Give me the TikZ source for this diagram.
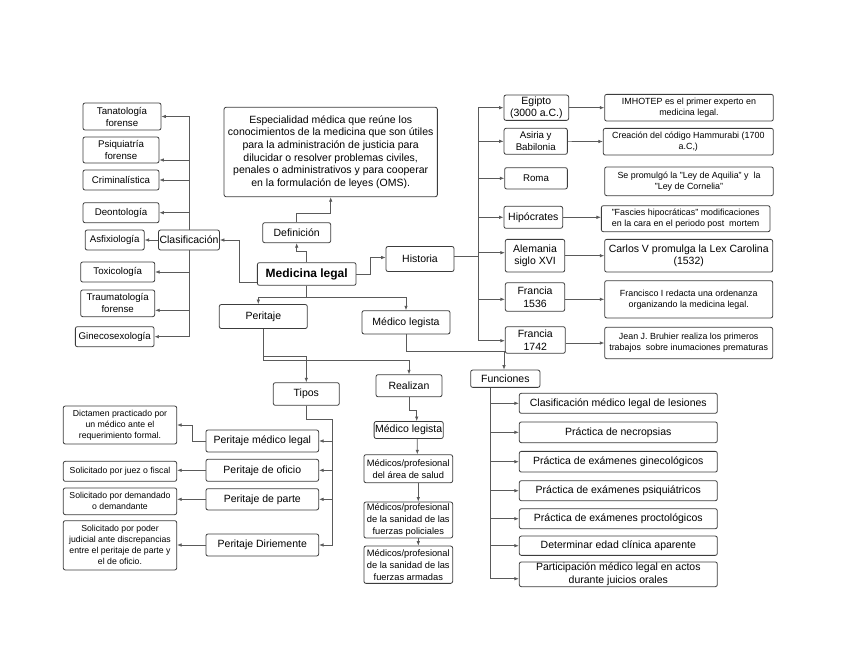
\documentclass[tikz,border=0pt]{standalone}
\usepackage{fontspec}
\setmainfont{Liberation Sans}
\usepackage{xcolor}
\usepackage{tikz}
\usetikzlibrary{arrows.meta}
\definecolor{borde}{HTML}{3C3C3C}
\definecolor{trazo}{HTML}{5A5A5A}

\begin{document}
\begin{tikzpicture}[
  x = 1pt, y = -1pt,
  caja/.style   = {draw=borde, rounded corners=2pt, align=center, line width=0.8pt,
                   inner sep=1pt, font=\fontsize{10.5}{12.6}\selectfont},
  clase/.style  = {caja, font=\fontsize{9.7}{12}\selectfont},
  nota/.style   = {caja, font=\fontsize{8.9}{11}\selectfont},
  medico/.style = {caja, minimum width=88.7pt, font=\fontsize{9.3}{12}\selectfont},
  flecha/.style = {-{Latex[length=4.5pt,width=3.5pt]}, draw=trazo, line width=0.7pt},
  linea/.style  = {draw=trazo, line width=0.7pt}
]
\useasboundingbox (0,0) rectangle (848,662);

% centro y definicion
\node[caja, minimum width=98.7pt, minimum height=22.6pt, font=\fontsize{12}{14}\selectfont\bfseries] (ml) at (306.7,274) {Medicina legal};
\node[caja, minimum width=68pt, minimum height=20pt] (defi) at (296.7,232.7) {Definición};
\node[caja, minimum width=213.3pt, minimum height=89.4pt] (esp) at (330.7,152) {Especialidad médica que reúne los\\conocimientos de la medicina que son útiles\\para la administración de justicia para\\dilucidar o resolver problemas civiles,\\penales o administrativos y para cooperar\\en la formulación de leyes (OMS).};
\node[caja, minimum width=68pt, minimum height=25pt] (hist) at (420,259) {Historia};
\node[caja, minimum width=88pt, minimum height=24pt] (peri) at (263.3,316.5) {Peritaje};
\node[caja, minimum width=88pt, minimum height=23.3pt] (mleg) at (406,322.3) {Médico legista};
\node[caja, minimum width=66pt, minimum height=22.6pt] (tipos) at (306.3,394) {Tipos};
\node[caja, minimum width=66pt, minimum height=22pt] (real) at (409,385.7) {Realizan};
\node[caja, minimum width=69.3pt, minimum height=17.3pt] (func) at (505.3,378.7) {Funciones};

% clasificacion
\node[caja, minimum width=60.6pt, minimum height=20pt] (clas) at (189,240) {Clasificación};
\node[clase, minimum width=78pt, minimum height=27pt] (tana) at (122,116.5) {Tanatología\\forense};
\node[clase, minimum width=76pt, minimum height=26pt] (psiq) at (121,150) {Psiquiatría\\forense};
\node[clase, minimum width=76pt, minimum height=20pt] (crim) at (121,180) {Criminalística};
\node[clase, minimum width=76pt, minimum height=20pt] (deon) at (121,212.7) {Deontología};
\node[clase, minimum width=59pt, minimum height=20pt] (asfi) at (114.7,240) {Asfixiología};
\node[clase, minimum width=74pt, minimum height=20pt] (toxi) at (117.7,272) {Toxicología};
\node[clase, minimum width=74pt, minimum height=26.7pt] (trau) at (117.7,303.3) {Traumatología\\forense};
\node[clase, minimum width=78.7pt, minimum height=20pt] (gine) at (114.7,336.7) {Ginecosexología};

% historia
\node[caja, minimum width=64.7pt, minimum height=25.3pt] (egip) at (536.3,107.7) {Egipto\\(3000 a.C.)};
\node[clase, minimum width=63.3pt, minimum height=26pt] (asir) at (535.7,141.3) {Asiria y\\Babilonia};
\node[clase, minimum width=62.7pt, minimum height=21.3pt] (roma) at (536,178.3) {Roma};
\node[caja, minimum width=58.7pt, minimum height=22pt] (hipo) at (533.3,217.3) {Hipócrates};
\node[caja, minimum width=59.4pt, minimum height=32.7pt] (alem) at (535,255.7) {Alemania\\siglo XVI};
\node[caja, minimum width=59.4pt, minimum height=28.6pt] (fr1) at (535,297) {Francia\\1536};
\node[caja, minimum width=60pt, minimum height=26.6pt] (fr2) at (535.3,340) {Francia\\1742};
\node[nota, minimum width=168.6pt, minimum height=26.7pt] (imho) at (689,107.7) {IMHOTEP es el primer experto en\\medicina legal.};
\node[nota, minimum width=170pt, minimum height=26.7pt] (crea) at (688.3,141.7) {Creación del código Hammurabi (1700\\a.C,)};
\node[nota, minimum width=168.6pt, minimum height=28.7pt] (prom) at (689,181.3) {Se promulgó la "Ley de Aquilia" y~ la\\"Ley de Cornelia"};
\node[nota, minimum width=168.7pt, minimum height=26pt] (fasc) at (685.7,218.7) {"Fascies hipocráticas" modificaciones\\en la cara en el periodo post~ mortem};
\node[caja, minimum width=168pt, minimum height=32.7pt] (carl) at (688.7,255.7) {Carlos V promulga la Lex Carolina\\(1532)};
\node[nota, minimum width=168pt, minimum height=37.3pt] (fran) at (688.7,299.3) {Francisco I redacta una ordenanza\\organizando la medicina legal.};
\node[nota, minimum width=168pt, minimum height=31.4pt] (jean) at (688.7,343) {Jean J. Bruhier realiza los primeros\\trabajos~ sobre inumaciones prematuras};
\coordinate (hx) at (478.7,256.7);

% tipos de peritaje
\node[caja, minimum width=112.7pt, minimum height=22pt] (pml) at (262.3,441) {Peritaje médico legal};
\node[caja, minimum width=112.7pt, minimum height=22pt] (pof) at (262.3,470.3) {Peritaje de oficio};
\node[caja, minimum width=112.7pt, minimum height=21.3pt] (ppa) at (262.3,499.3) {Peritaje de parte};
\node[caja, minimum width=112.7pt, minimum height=22pt] (pdi) at (262.3,545) {Peritaje Diriemente};
\node[nota, minimum width=113.4pt, minimum height=38pt, font=\fontsize{8.7}{11}\selectfont] (dict) at (120,425) {Dictamen practicado por\\un médico ante el\\requerimiento formal.};
\node[nota, minimum width=113.4pt, minimum height=20pt, font=\fontsize{8.7}{11}\selectfont] (sjue) at (120,471.3) {Solicitado por juez o fiscal};
\node[nota, minimum width=113.4pt, minimum height=26.7pt, font=\fontsize{8.7}{11}\selectfont] (sdem) at (120,501.3) {Solicitado por demandado\\o demandante};
\node[nota, minimum width=113.4pt, minimum height=49.3pt, font=\fontsize{8.7}{11}\selectfont] (spod) at (120,545.3) {Solicitado por poder\\judicial ante discrepancias\\entre el peritaje de parte y\\el de oficio.};
\coordinate (tx) at (332.7,419.3);

% quienes realizan
\node[caja, minimum width=65.3pt, minimum height=17pt] (ml2) at (408.7,430) {Médico legista};
\node[medico, minimum height=28pt] (salud) at (408.3,468.7) {Médicos/profesional\\del área de salud};
\node[medico, minimum height=36pt] (poli) at (408.3,520) {Médicos/profesional\\de la sanidad de las\\fuerzas policiales};
\node[medico, minimum height=37.3pt] (arma) at (408.3,564.7) {Médicos/profesional\\de la sanidad de las\\fuerzas armadas};

% funciones
\node[caja, minimum width=198pt, minimum height=20pt] (f1) at (618.3,403.3) {Clasificación médico legal de lesiones};
\node[caja, minimum width=198pt, minimum height=20.7pt] (f2) at (618.3,432.3) {Práctica de necropsias};
\node[caja, minimum width=198pt, minimum height=20.7pt] (f3) at (618.3,461.7) {Práctica de exámenes ginecológicos};
\node[caja, minimum width=198pt, minimum height=20pt] (f4) at (618.3,490.7) {Práctica de exámenes psiquiátricos};
\node[caja, minimum width=198pt, minimum height=20pt] (f5) at (618.3,518.7) {Práctica de exámenes proctológicos};
\node[caja, minimum width=198pt, minimum height=19.3pt] (f6) at (618.3,545.7) {Determinar edad clínica aparente};
\node[caja, minimum width=198pt, minimum height=24.7pt] (f7) at (618.3,574.3) {Participación médico legal en actos\\durante juicios orales};

% conectores del centro
\draw[flecha] (ml.north) -- ++(0,-10.7) -| (defi.south);
\draw[flecha] (defi.north) -- ++(0,-9.4) -| (esp.south);
\draw[flecha] ([yshift=-8pt]ml.west) -- ++(-18,0) |- (clas.east);
\draw[flecha] (ml.east) -- ++(14,0) |- ([yshift=1.5pt]hist.west);
\draw[flecha] (ml.south) -- ++(0,11.4) -| ([xshift=-5pt]peri.north);
\draw[flecha] (ml.south) -- ++(0,11.4) -| (mleg.north);
\draw[flecha] (peri.south) -- ++(0,27.5) -| (tipos.north);
\draw[flecha] (peri.south) -- ++(0,31) -| (real.north);
\draw[flecha] (mleg.south) -- ++(0,16.7) -| ([xshift=-1.3pt]func.north);

% clasificacion
\draw[flecha] (clas.north) |- (tana.east);
\draw[flecha] (clas.north) |- ([yshift=-10pt]psiq.east);
\draw[flecha] (clas.north) |- (crim.east);
\draw[flecha] (clas.north) |- (deon.east);
\draw[flecha] (clas.west) -- (asfi.east);
\draw[flecha] (clas.south) |- (toxi.east);
\draw[flecha] (clas.south) |- ([yshift=-7pt]trau.east);
\draw[flecha] (clas.south) |- (gine.east);

% historia
\draw[linea] (hist.east |- hx) -- (hx);
\draw[flecha] (hx) |- (egip.west);
\draw[flecha] (hx) |- (asir.west);
\draw[flecha] (hx) |- (roma.west);
\draw[flecha] (hx) |- (hipo.west);
\draw[flecha] (hx) |- ([yshift=3pt]alem.west);
\draw[flecha] (hx) |- ([yshift=-2.3pt]fr1.west);
\draw[flecha] (hx) |- ([yshift=-0.7pt]fr2.west);
\draw[flecha] (egip) -- (imho);
\draw[flecha] (asir) -- (crea);
\draw[flecha] (hipo) -- (hipo -| fasc.west);
\draw[flecha] (alem) -- (carl);
\draw[flecha] ([yshift=-2.3pt]fr1.east) -- ([yshift=-2.3pt]fr1.east -| fran.west);
\draw[flecha] ([yshift=-3pt]fr2.east) -- ([yshift=-3pt]fr2.east -| jean.west);

% tipos
\draw[flecha] (tipos.south) |- (tx) |- (pml.east);
\draw[flecha] (tipos.south) |- (tx) |- (pof.east);
\draw[flecha] (tipos.south) |- (tx) |- (ppa.east);
\draw[flecha] (tipos.south) |- (tx) |- (pdi.east);
\draw[flecha] (pml.west) -- ++(-13.3,0) |- (dict.east);
\draw[flecha] (pof.west) -- (pof.west -| sjue.east);
\draw[flecha] (ppa.west) -- (ppa.west -| sdem.east);
\draw[flecha] (pdi.west) -- (pdi.west -| spod.east);

% realizan
\draw[flecha] (real.south) -- ++(0,13) -| ([xshift=8pt]ml2.north);
\draw[flecha] ([xshift=8.5pt]ml2.south) -- ([xshift=9pt]salud.north);
\draw[flecha] ([xshift=10pt]salud.south) -- ([xshift=10pt]poli.north);
\draw[flecha] ([xshift=10pt]poli.south) -- ([xshift=10pt]arma.north);

% funciones
\draw[flecha] ([xshift=-15.3pt]func.south) |- (f1.west);
\draw[flecha] ([xshift=-15.3pt]func.south) |- (f2.west);
\draw[flecha] ([xshift=-15.3pt]func.south) |- (f3.west);
\draw[flecha] ([xshift=-15.3pt]func.south) |- (f4.west);
\draw[flecha] ([xshift=-15.3pt]func.south) |- (f5.west);
\draw[flecha] ([xshift=-15.3pt]func.south) |- (f6.west);
\draw[flecha] ([xshift=-15.3pt]func.south) |- ([yshift=-4.4pt]f7.west);
\end{tikzpicture}
\end{document}
